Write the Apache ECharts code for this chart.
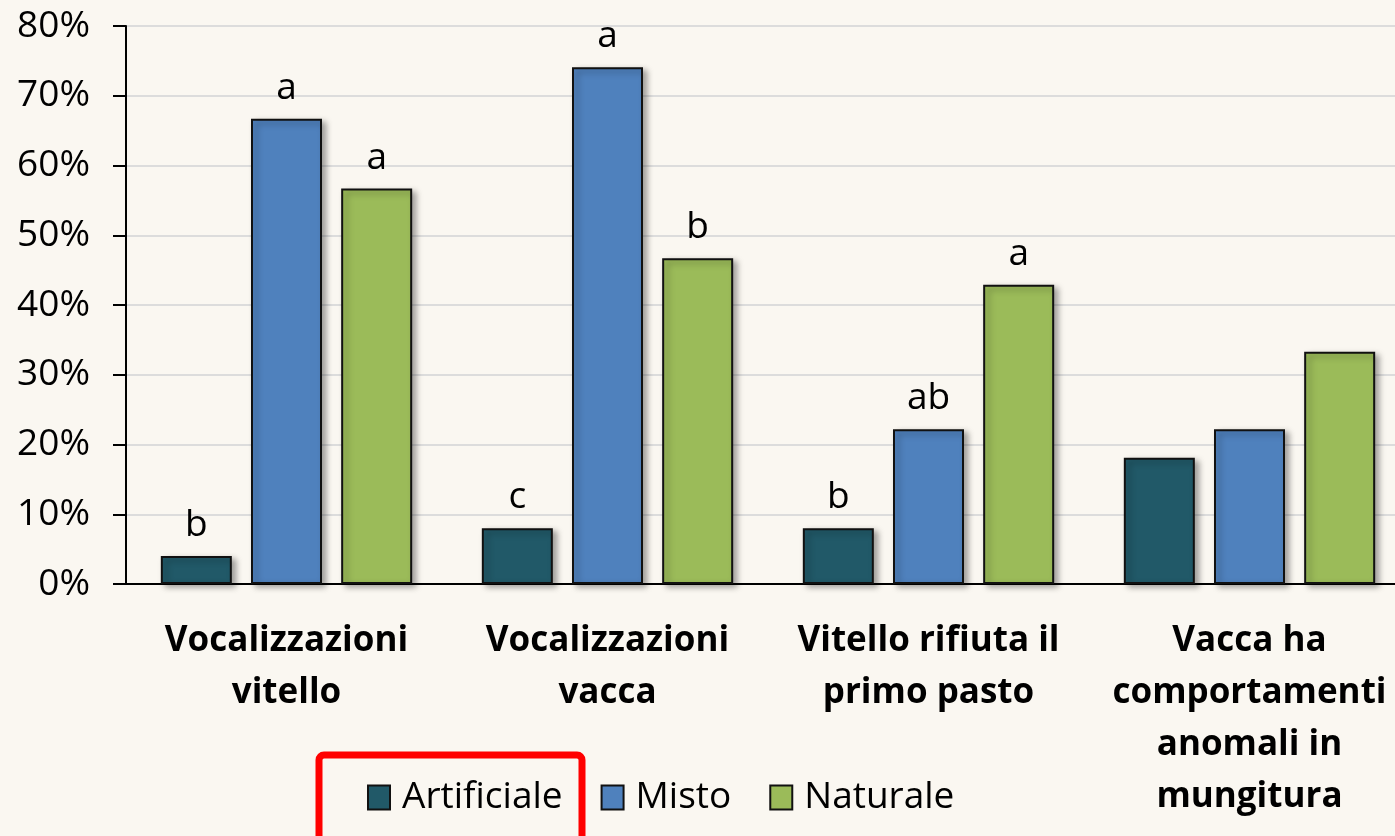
<!DOCTYPE html>
<html>
<head>
<meta charset="utf-8">
<script src="https://cdn.jsdelivr.net/npm/echarts@6/dist/echarts.min.js"></script>
<style>
  html, body { margin: 0; padding: 0; background: #faf7f1; }
  #main { width: 1395px; height: 836px; }
</style>
</head>
<body>
<div id="main"></div>
<script>
// categorie e serie
var categories = [
    'Vocalizzazioni\nvitello',
    'Vocalizzazioni\nvacca',
    'Vitello rifiuta il\nprimo pasto',
    'Vacca ha\ncomportamenti\nanomali in\nmungitura'
];
var seriesNames = ['Artificiale', 'Misto', 'Naturale'];
var artificiale = [4.0, 8.0, 8.0, 18.1];
var misto = [66.7, 74.1, 22.2, 22.2];
var naturale = [56.7, 46.7, 42.9, 33.3];
// lettere di significatività sopra le barre
var lettersArtificiale = ['b', 'c', 'b', ''];
var lettersMisto = ['a', 'a', 'ab', ''];
var lettersNaturale = ['a', 'b', 'a', ''];
var colors = ['#215968', '#4f81bd', '#9bbb59'];

var FONT = '"Open Sans", sans-serif';

function makeSeries(name, values, letters, color) {
    return {
        name: name,
        type: 'bar',
        data: values,
        barWidth: 71,
        barGap: '27%',
        itemStyle: {
            color: color,
            borderColor: '#111',
            borderWidth: 2,
            shadowColor: 'rgba(0,0,0,0.35)',
            shadowBlur: 6,
            shadowOffsetX: 4,
            shadowOffsetY: 3
        },
        label: {
            show: true,
            position: 'top',
            distance: 12,
            fontFamily: FONT,
            fontSize: 37,
            color: '#000',
            formatter: function (p) {
                return letters[p.dataIndex];
            }
        }
    };
}

var myChart = echarts.init(document.getElementById('main'));
var option = {
    backgroundColor: '#faf7f1',
    animation: false,
    grid: {
        left: 126,
        width: 1284,
        top: 26,
        height: 558,
        outerBoundsMode: 'none'
    },
    legend: {
        data: seriesNames,
        left: 362,
        top: 774,
        icon: 'rect',
        itemWidth: 22,
        itemHeight: 24,
        itemGap: 38,
        textStyle: {
            fontFamily: FONT,
            fontSize: 37,
            color: '#000',
            padding: [0, 0, 0, 7]
        },
        itemStyle: {
            borderColor: '#111',
            borderWidth: 2
        }
    },
    xAxis: {
        type: 'category',
        data: categories,
        axisLine: { lineStyle: { color: '#000', width: 2 } },
        axisTick: { length: 14, lineStyle: { color: '#000', width: 2 } },
        axisLabel: {
            fontFamily: FONT,
            fontWeight: 'bold',
            fontSize: 35,
            lineHeight: 52,
            color: '#000',
            margin: 31,
            interval: 0
        }
    },
    yAxis: {
        type: 'value',
        min: 0,
        max: 80,
        interval: 10,
        axisLine: { show: true, lineStyle: { color: '#000', width: 2 } },
        axisTick: { show: true, length: 13, lineStyle: { color: '#000', width: 2 } },
        splitLine: { lineStyle: { color: '#dcdcdc', width: 2 } },
        axisLabel: {
            fontFamily: FONT,
            fontSize: 37,
            color: '#000',
            margin: 36,
            formatter: '{value}%'
        }
    },
    graphic: [
        {
            type: 'rect',
            shape: { x: 319, y: 755, width: 263, height: 100, r: 5 },
            style: { fill: 'none', stroke: '#ff0000', lineWidth: 7 }
        }
    ],
    series: [
        makeSeries(seriesNames[0], artificiale, lettersArtificiale, colors[0]),
        makeSeries(seriesNames[1], misto, lettersMisto, colors[1]),
        makeSeries(seriesNames[2], naturale, lettersNaturale, colors[2])
    ]
};
myChart.setOption(option);
</script>
</body>
</html>
